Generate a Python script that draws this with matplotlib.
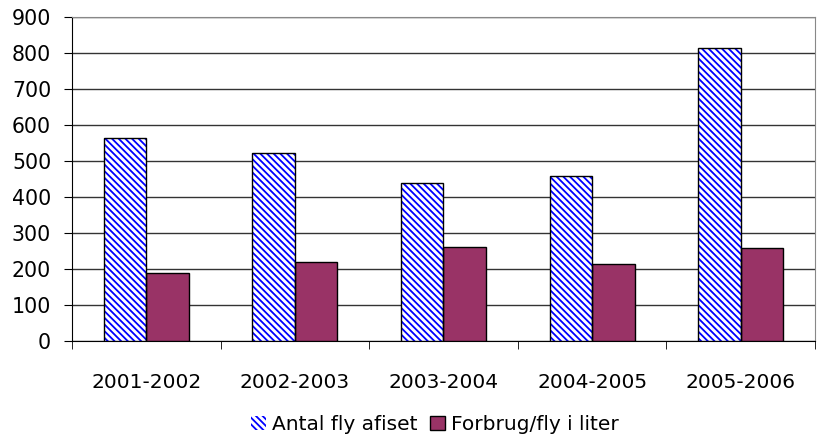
import matplotlib
matplotlib.use("Agg")
import matplotlib.pyplot as plt
import numpy as np
from matplotlib.patches import Patch

categories = ["2001-2002", "2002-2003", "2003-2004", "2004-2005", "2005-2006"]
antal_fly = [565, 523, 438, 458, 815]
forbrug = [188, 219, 262, 213, 257]
series_names = ["Antal fly afiset", "Forbrug/fly i liter"]

plt.rcParams['font.family'] = ['DejaVu Sans']
plt.rcParams['hatch.linewidth'] = 1.3

fig = plt.figure(figsize=(8.2, 4.34), dpi=100)
ax = fig.add_axes([0.0878, 0.2143, 0.9061, 0.7465])

x = np.arange(len(categories))
w = 0.286
red = "#993366"
blue = "#0000FF"

# hatched bars
ax.bar(x - w/2, antal_fly, w, color="white", edgecolor=blue, hatch="\\\\\\\\\\", linewidth=0, zorder=3)
ax.bar(x - w/2, antal_fly, w, fill=False, edgecolor="black", linewidth=1.0, zorder=4)
ax.bar(x + w/2, forbrug, w, color=red, edgecolor="black", linewidth=1.0, zorder=3)

ax.set_xlim(-0.5, len(categories) - 0.5)
ax.set_ylim(0, 900)
ax.set_yticks(range(0, 901, 100))
ax.yaxis.grid(True, color="#333333", linewidth=1.0, zorder=0)
ax.set_axisbelow(True)

ax.set_xticks(x)
ax.set_xticklabels(categories, fontsize=14.5)
ax.tick_params(axis='x', length=0, pad=23)
ax.set_xticks(np.arange(-0.5, len(categories), 1), minor=True)
ax.tick_params(axis='x', which='minor', length=6, direction='out', color='black')
ax.tick_params(axis='y', length=6, direction='out', labelsize=14.8, pad=9)

for s in ["top", "right"]:
    ax.spines[s].set_color("#888888")
for s in ["left", "bottom"]:
    ax.spines[s].set_color("black")

handles = [Patch(facecolor="white", edgecolor=blue, hatch="\\\\\\\\\\", linewidth=0),
           Patch(facecolor=red, edgecolor="black", linewidth=1)]
fig.legend(handles, series_names, loc="center", bbox_to_anchor=(0.53, 0.022),
           ncol=2, frameon=False, fontsize=14.5, handlelength=0.75, handleheight=0.75,
           handletextpad=0.3, columnspacing=0.6)

fig.savefig("out.png", dpi=100)
